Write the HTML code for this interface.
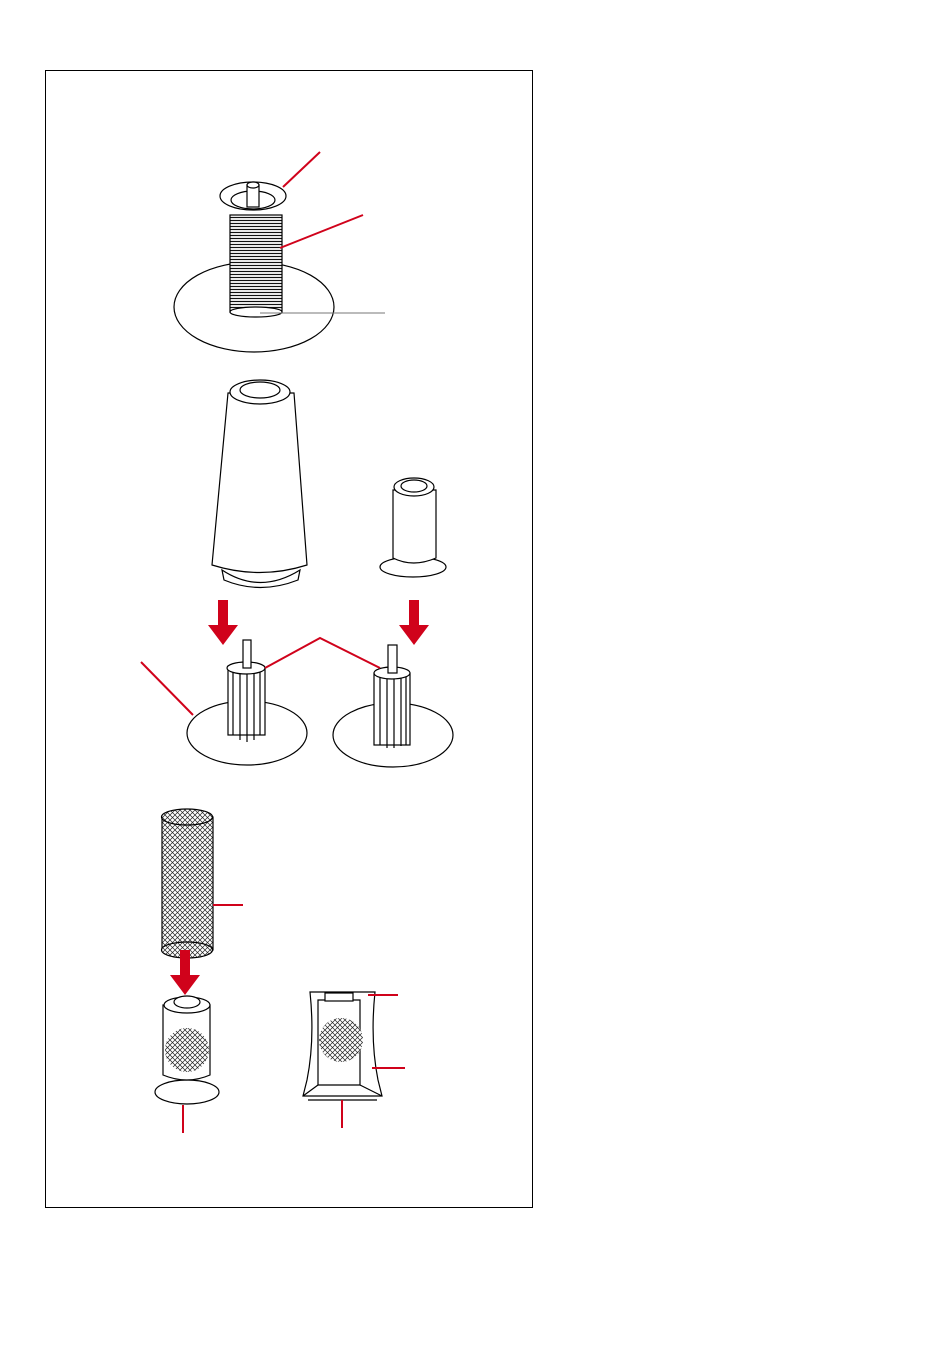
<!DOCTYPE html>
<html><head><meta charset="utf-8"><style>html,body{margin:0;padding:0;background:#fff}svg{display:block}</style></head>
<body>
<svg width="950" height="1369" viewBox="0 0 950 1369" xmlns="http://www.w3.org/2000/svg">
<defs>
<pattern id="h" width="5" height="5" patternUnits="userSpaceOnUse">
<rect width="5" height="5" fill="#fff"/>
<path d="M0,0L5,5M5,0L0,5" stroke="#222" stroke-width="0.7"/>
</pattern>
<pattern id="t" width="4" height="3" patternUnits="userSpaceOnUse">
<rect width="4" height="3" fill="#fff"/><path d="M0,1.5H4" stroke="#111" stroke-width="1.2"/>
</pattern>
</defs>
<rect x="45.5" y="70.5" width="487" height="1137" fill="none" stroke="#000" stroke-width="1"/>
<g fill="#fff" stroke="#000" stroke-width="1.2">
<ellipse cx="254" cy="307" rx="80" ry="45"/>
<rect x="230" y="215" width="52" height="97" fill="url(#t)"/>
<ellipse cx="256" cy="312" rx="26" ry="5"/>
<ellipse cx="253" cy="196" rx="33" ry="14"/>
<ellipse cx="253" cy="200" rx="22" ry="9"/>
<rect x="247" y="185" width="12" height="22"/>
<ellipse cx="253" cy="185" rx="6" ry="3"/>
<path d="M228,393 L294,393 L307,565 Q260,580 212,565 Z"/>
<path d="M222,570 Q260,595 300,570 L298,580 Q260,595 224,580Z"/>
<ellipse cx="260" cy="392" rx="30" ry="12"/>
<ellipse cx="260" cy="390" rx="20" ry="8"/>
<ellipse cx="413" cy="567" rx="33" ry="10"/>
<path d="M393,490 L436,490 L436,558 Q413,568 393,558Z"/>
<ellipse cx="414" cy="487" rx="20" ry="9"/>
<ellipse cx="414" cy="486" rx="13" ry="6"/>
<ellipse cx="247" cy="733" rx="60" ry="32"/>
<rect x="228" y="668" width="37" height="67"/>
<path d="M233,668V735M240,668V740M247,668V742M254,668V740M260,668V735" fill="none"/>
<ellipse cx="246" cy="668" rx="19" ry="6"/>
<rect x="243" y="640" width="8" height="28"/>
<ellipse cx="393" cy="735" rx="60" ry="32"/>
<rect x="374" y="673" width="36" height="72"/>
<path d="M380,673V745M387,673V748M394,673V748M401,673V746M406,673V745" fill="none"/>
<ellipse cx="392" cy="673" rx="18" ry="6"/>
<rect x="388" y="645" width="9" height="28"/>
<rect x="162" y="817" width="51" height="133" fill="url(#h)"/>
<ellipse cx="187" cy="950" rx="25.5" ry="8" fill="url(#h)"/>
<ellipse cx="187" cy="817" rx="25.5" ry="8" fill="url(#h)"/>
<ellipse cx="187" cy="1092" rx="32" ry="12"/>
<path d="M163,1005 L210,1005 L210,1075 Q187,1085 163,1075Z"/>
<ellipse cx="187" cy="1005" rx="23" ry="8"/>
<ellipse cx="187" cy="1002" rx="13" ry="6"/>
<circle cx="187" cy="1050" r="22" fill="url(#h)" stroke="none"/>
<path d="M310,992 L375,992 Q370,1040 378,1080 L382,1096 L303,1096 L307,1080 Q315,1040 310,992Z"/>
<path d="M318,1000 L360,1000 L360,1085 L318,1085Z"/>
<rect x="325" y="993" width="28" height="8"/>
<circle cx="341" cy="1040" r="22" fill="url(#h)" stroke="none"/>
<path d="M303,1096 L318,1085 M382,1096 L360,1085 M308,1100 H377" fill="none"/>
</g>
<g stroke="#d0021b" stroke-width="2" fill="none">
<path d="M283,187 L320,152"/>
<path d="M280,248 L363,215"/>
<path d="M141,662 L193,715"/>
<path d="M265,668 L320,638 L380,668"/>
<path d="M213,905 L243,905"/>
<path d="M183,1105 V1133"/>
<path d="M368,995 H398"/>
<path d="M372,1068 H405"/>
<path d="M342,1100 V1128"/>
</g>
<path d="M260,313 H385" stroke="#777" stroke-width="1"/>
<g fill="#d0021b">
<path d="M218,600h10v25h10l-15,20l-15,-20h10z"/>
<path d="M409,600h10v25h10l-15,20l-15,-20h10z"/>
<path d="M180,950h10v25h10l-15,20l-15,-20h10z"/>
</g>
</svg>
</body></html>
